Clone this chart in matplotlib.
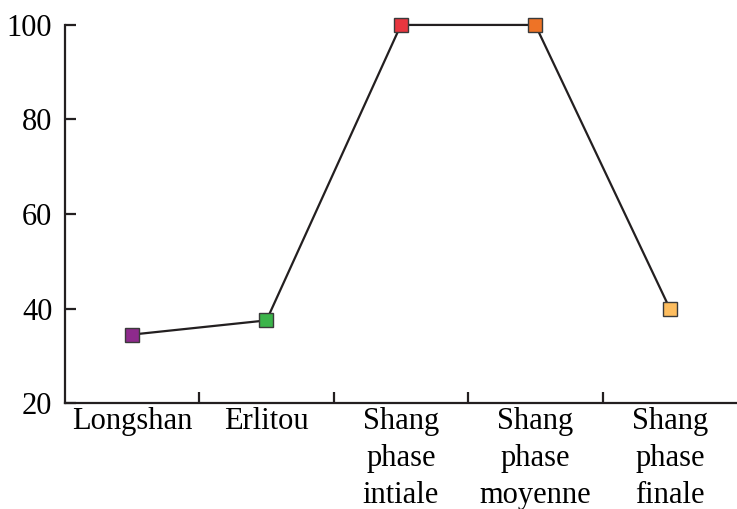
import numpy as np
import matplotlib
matplotlib.use('Agg')
import matplotlib.pyplot as plt

# data
periods = ['Longshan', 'Erlitou', 'Shang\nphase\nintiale', 'Shang\nphase\nmoyenne', 'Shang\nphase\nfinale']
values = [34.5, 37.5, 100, 100, 40]
colors = ['#8e2a8c', '#3bb44a', '#e8363f', '#ee7326', '#fdbd5f']
yticks = [20, 40, 60, 80, 100]

plt.rcParams['font.family'] = ['Liberation Serif', 'DejaVu Serif']

fig = plt.figure(figsize=(7.37, 5.09), dpi=100)
ax = fig.add_axes([0.088, 0.208, 0.912, 0.743])

x = np.arange(len(periods))
ax.plot(x, values, color='#231f20', lw=1.6, zorder=2, clip_on=False)
for xi, v, c in zip(x, values, colors):
    ax.plot(xi, v, marker='s', ms=9.5, mfc=c, mec='#3a3a3a', mew=1.0, zorder=3, clip_on=False)

ax.set_xlim(-0.5, 4.5)
ax.set_ylim(20, 100)
ax.set_yticks(yticks)
ax.set_xticks(x)
ax.set_xticklabels(periods, fontsize=22, linespacing=1.36, va='top')
ax.set_xticks(np.arange(0.5, 4.5, 1), minor=True)

for s in ['top', 'right']:
    ax.spines[s].set_visible(False)
for s in ['left', 'bottom']:
    ax.spines[s].set_linewidth(1.6)
    ax.spines[s].set_color('#231f20')

ax.tick_params(axis='y', direction='in', length=8, width=1.6, labelsize=22, pad=9, color='#231f20')
ax.tick_params(axis='x', which='major', length=0, pad=3)
ax.tick_params(axis='x', which='minor', direction='in', length=8, width=1.6, color='#231f20')

fig.savefig('out.png', dpi=100)
